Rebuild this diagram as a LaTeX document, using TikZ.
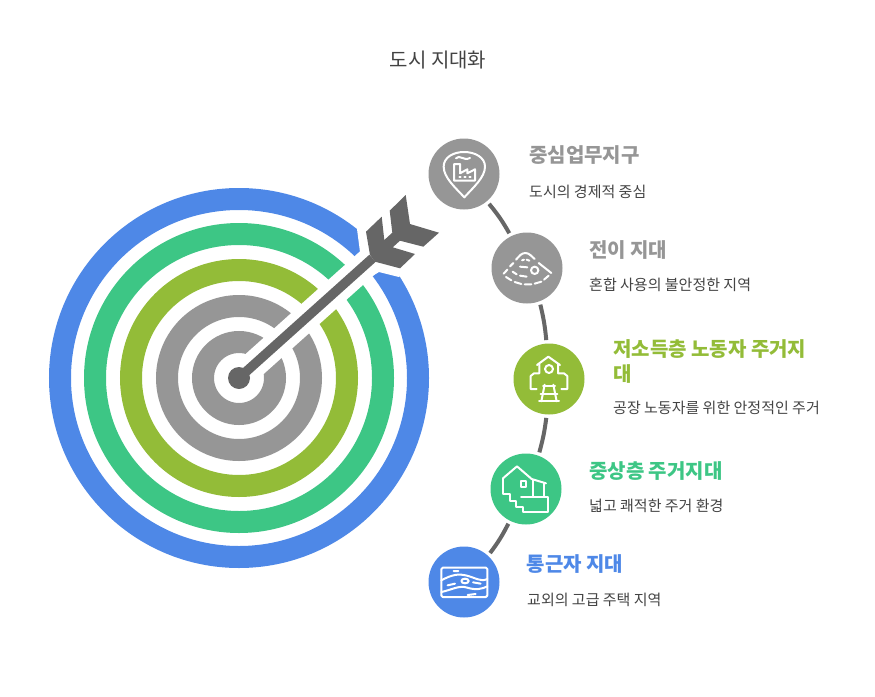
\documentclass[tikz,border=0pt]{standalone}
\usepackage{fontspec}
\setmainfont{Noto Sans CJK KR}
\definecolor{cblue}{HTML}{4E88E7}
\definecolor{cgreen}{HTML}{3DC685}
\definecolor{colive}{HTML}{93BC38}
\definecolor{cgrey}{HTML}{969696}
\definecolor{cdark}{HTML}{666666}
\definecolor{ctext}{HTML}{434343}
\tikzset{
  ring/.style={draw=#1,line width=22pt},
  badge/.style={circle,fill=#1,minimum size=71pt,inner sep=0pt,outer sep=3.5pt},
  conn/.style={draw=cdark,line width=4pt},
  head/.style={text=#1,font=\fontsize{20}{25}\selectfont\bfseries,anchor=base west,inner sep=0pt,align=left},
  body/.style={text=ctext,font=\fontsize{15}{20}\selectfont,anchor=base west,inner sep=0pt},
  titletext/.style={text=ctext,font=\fontsize{20}{25}\selectfont,anchor=base,inner sep=0pt},
  icon/.style={draw=white,line width=2pt,line cap=round,line join=round},
  iconscope/.style={x=0.33333pt,y=-0.33333pt},
}
\begin{document}
\begin{tikzpicture}[x=1pt,y=-1pt]
\useasboundingbox (0,0) rectangle (875,696);
\coordinate (hub) at (239,378);
% rings
\draw[ring=cblue] (hub) circle (179pt);
\draw[ring=cgreen] (hub) circle (144pt);
\draw[ring=colive] (hub) circle (108pt);
\draw[ring=cgrey] (hub) circle (72pt);
\draw[ring=cgrey] (hub) circle (36pt);
% white gap along the shaft
\coordinate (gapend) at (384,248);
\draw[white,line width=27pt] (hub) -- (gapend);
\fill[white] (356,255) -- (360,252) -- (357,229) -- (372,212) -- (425,250) -- (399,277) -- (379,272) -- (374,275) -- cycle;
% arrow
\coordinate (shaftend) at (372.5,258.3);
\draw[cdark,line width=9.5pt] (hub) -- (shaftend);
\fill[cdark] (hub) circle (11pt);
\fill[cdark] (370,255) -- (366,231.7) -- (381.7,216.7) -- (384.3,240) -- (392.3,232.7) -- (389.7,210.7) -- (405.7,195) -- (410,224) -- (439,232.7) -- (423.3,246.7) -- (400,240.7) -- (392.7,247.3) -- (415,254) -- (400,268.3) -- (375,261.7) -- cycle;
% badges
\node[badge=cgrey] (c1) at (464,174) {};
\node[badge=cgrey] (c2) at (527,268) {};
\node[badge=colive] (c3) at (549,379) {};
\node[badge=cgreen] (c4) at (526,489) {};
\node[badge=cblue] (c5) at (464,582) {};
% connectors
\draw[conn] (c1.-50) to[bend left=5] (c2.117);
\draw[conn] (c2.-70) to[bend left=4] (c3.94);
\draw[conn] (c3.-94) to[bend left=4] (c4.70);
\draw[conn] (c4.-117) to[bend left=5] (c5.48);
% icon 1
\begin{scope}[iconscope,shift={(430pt,-140pt)}]
\draw[icon] (103,172) .. controls (75,142) and (41,112) .. (41,80) .. controls (41,52) and (70,36) .. (102,36) .. controls (135,36) and (165,52) .. (165,80) .. controls (165,112) and (130,142) .. (103,172) -- cycle;
\draw[icon] (72,72) -- (72,122) -- (135,122) -- (135,88) -- (112,100) -- (112,88) -- (90,100) -- (90,72) -- cycle;
\draw[icon] (78,55) .. controls (88,42) and (100,64) .. (120,54);
\draw[icon] (88,112) -- (92,112) (103,112) -- (107,112) (118,112) -- (122,112);
\end{scope}
% icon 2
\begin{scope}[iconscope,shift={(492pt,-233pt)}]
\draw[icon] (85,66) .. controls (95,58) and (105,58) .. (115,66);
\draw[icon] (85,66) -- (72,80) (64,90) -- (54,100) (46,110) -- (35,122);
\draw[icon] (115,66) -- (128,78) (140,90) -- (178,120);
\draw[icon] (42,132) -- (58,142) (68,147) -- (88,153) (98,154) -- (118,154) (128,152) -- (148,146) (156,140) -- (170,128);
\draw[icon] (62,116) -- (74,124) (84,128) -- (104,131);
\draw[icon] (128,112) circle (11);
\draw[icon] (84,101) -- (106,103);
\draw[icon] (90,82) -- (96,80) (104,80) -- (112,83);
\end{scope}
% icon 3
\begin{scope}[iconscope,shift={(514pt,-344pt)}]
\draw[icon] (69,63) -- (103,38) -- (138,63);
\draw[icon] (76,60) -- (76,88) -- (60,88) -- (50,96) -- (50,135) -- (68,135);
\draw[icon] (132,60) -- (132,88) -- (150,88) -- (160,96) -- (160,135) -- (142,135);
\draw[icon] (105,75) circle (12);
\draw[icon] (92,122) -- (82,172) (118,122) -- (128,172);
\draw[icon] (87,127) -- (123,127) (80,150) -- (130,150) (75,170) -- (135,170);
\end{scope}
% icon 4
\begin{scope}[iconscope,shift={(491pt,-454pt)}]
\draw[icon] (37,72) -- (37,120) -- (58,120) -- (58,140) -- (75,140) -- (75,158) -- (95,158) -- (95,175) -- (172,175) -- (172,128) -- (90,128);
\draw[icon] (37,72) -- (78,37) -- (122,75) -- (165,88);
\draw[icon] (125,78) -- (125,128) (158,88) -- (158,128);
\draw[icon] (90,82) rectangle (106,100);
\end{scope}
% icon 5
\begin{scope}[iconscope,shift={(429pt,-547pt)}]
\draw[icon,rounded corners=1.5pt] (37,62) rectangle (175,150);
\draw[icon] (37,100) .. controls (70,82) and (90,80) .. (110,85) .. controls (140,92) and (155,106) .. (175,96);
\draw[icon] (37,135) .. controls (70,128) and (90,114) .. (115,122) .. controls (140,130) and (160,126) .. (175,118);
\draw[icon] (74,72) -- (88,72) (56,115) -- (78,110) (132,106) -- (155,110) (116,144) -- (140,141);
\draw[icon] (108,102) ellipse (11 and 7);
\end{scope}
% texts
\node[titletext] (title) at (438,67) {도시 지대화};
\node[head=cgrey] (h1) at (529,162) {중심업무지구};
\node[body] (b1) at (529,197) {도시의 경제적 중심};
\node[head=cgrey] (h2) at (589,257) {전이 지대};
\node[body] (b2) at (589,290) {혼합 사용의 불안정한 지역};
\node[head=colive] (h3a) at (613,356) {저소득층 노동자 주거지};
\node[head=colive] (h3b) at (613,381) {대};
\node[body] (b3) at (613,413) {공장 노동자를 위한 안정적인 주거};
\node[head=cgreen] (h4) at (589,478) {중상층 주거지대};
\node[body] (b4) at (589,511) {넓고 쾌적한 주거 환경};
\node[head=cblue] (h5) at (526.5,571) {통근자 지대};
\node[body] (b5) at (527,605) {교외의 고급 주택 지역};
\end{tikzpicture}
\end{document}
